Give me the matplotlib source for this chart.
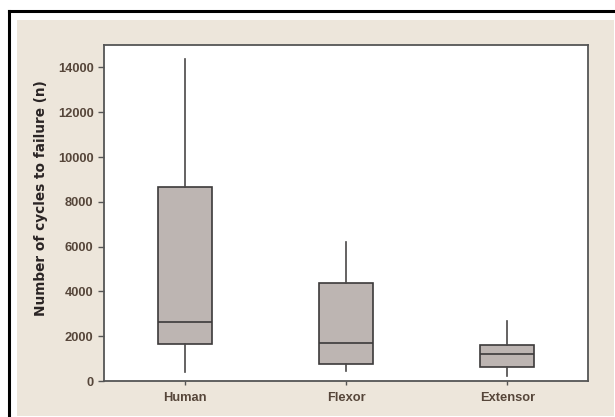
import matplotlib
matplotlib.use('Agg')
import matplotlib.pyplot as plt
from matplotlib.patches import Rectangle

# Fatigue life summary per group (cycles to failure)
groups = ['Human', 'Flexor', 'Extensor']
whisker_low = [390, 460, 225]
q1 = [1630, 760, 610]
median = [2620, 1690, 1200]
q3 = [8660, 4370, 1620]
whisker_high = [14360, 6210, 2690]

W, H = 615, 417
fig = plt.figure(figsize=(W / 100, H / 100), dpi=100)
fig.patch.set_facecolor('white')

# framed beige panel behind the plot
fig.patches.append(Rectangle((17 / W, 1 - 416 / H), 597 / W, 396 / H,
                             transform=fig.transFigure, facecolor='#ede6db',
                             edgecolor='none', zorder=-2))
fig.lines.append(plt.Line2D([9 / W, 9 / W], [0, 1 - 11 / H],
                            transform=fig.transFigure, color='black', lw=2.2,
                            zorder=-1))
fig.lines.append(plt.Line2D([9 / W, 1], [1 - 11 / H, 1 - 11 / H],
                            transform=fig.transFigure, color='black', lw=2.2,
                            zorder=-1))

ax = fig.add_axes([104 / W, 36 / H, 484 / W, 336 / H])
ax.set_facecolor('white')

stats = []
for name, lo, a, m, b, hi in zip(groups, whisker_low, q1, median, q3, whisker_high):
    stats.append({'label': name, 'whislo': lo, 'q1': a, 'med': m,
                  'q3': b, 'whishi': hi, 'fliers': []})

edge = '#3c3a3a'
ax.bxp(stats, positions=[1, 2, 3], widths=0.335, patch_artist=True,
       showcaps=False,
       boxprops=dict(facecolor='#bdb5b2', edgecolor=edge, linewidth=1.2),
       medianprops=dict(color=edge, linewidth=1.2),
       whiskerprops=dict(color='#4a4848', linewidth=1.2))

ax.set_xlim(0.5, 3.5)
ax.set_ylim(0, 15000)
ax.set_yticks(range(0, 14001, 2000))

txt = '#56463a'
ax.tick_params(axis='both', colors='#555555', labelcolor=txt, labelsize=9.3,
               length=4, width=1)
ax.tick_params(axis='y', pad=3.5)
ax.tick_params(axis='x', length=3, pad=5)
for lab in ax.get_yticklabels() + ax.get_xticklabels():
    lab.set_family('Liberation Sans')
    lab.set_fontweight('bold')

for s in ax.spines.values():
    s.set_color('#555555')
    s.set_linewidth(1.3)

ax.set_ylabel('Number of cycles to failure (n)', fontsize=9.8,
              fontweight='bold', color='#2a2424')
ax.yaxis.set_label_coords(41 / W, 219 / H, transform=fig.transFigure)
ax.yaxis.label.set_horizontalalignment('center')
ax.yaxis.label.set_verticalalignment('center')

plt.savefig('out.png', dpi=100)
